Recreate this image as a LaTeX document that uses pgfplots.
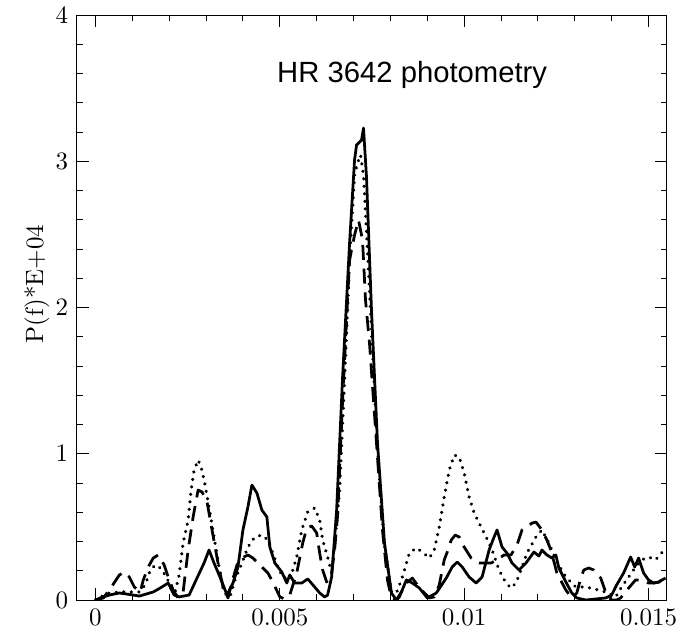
\documentclass[border=0pt]{standalone}
\usepackage{fontspec}
\usepackage{pgfplots}
\pgfplotsset{compat=1.18}
\newfontfamily\hel{Liberation Sans}
\begin{document}
\begin{tikzpicture}
\path[use as bounding box] (-30.8pt,-12.8pt) rectangle (245.6pt,240pt);
\begin{axis}[
  at={(0,0)}, anchor=south west,
  scale only axis, width=236pt, height=234pt,
  xmin=-0.5, xmax=15.5, ymin=0, ymax=4,
  xtick={0,5,10,15}, xticklabels={0,0.005,0.01,0.015},
  ytick={0,1,2,3,4},
  minor x tick num=4, minor y tick num=4,
  tick align=inside, tick pos=both,
  major tick length=4.8pt, minor tick length=2.4pt,
  every tick/.style={black, line width=0.4pt},
  axis line style={line width=0.4pt},
  ylabel={P(f)*E+04},
  every axis y label/.style={at={(axis description cs:-0.068,0.54)},rotate=90,anchor=center},
  every axis plot/.append style={line join=round},
  clip=true,
]
% solid
\addplot[black, line width=1.1pt] coordinates {
(0,0) (0.135,0.014) (0.378,0.034) (0.649,0.048) (0.838,0.041) (1.027,0.034) (1.189,0.027)
(1.378,0.041) (1.568,0.055) (1.757,0.082) (1.973,0.116) (2.135,0.034) (2.270,0.021) (2.541,0.034)
(2.730,0.137) (2.946,0.253) (3.081,0.342) (3.216,0.253) (3.378,0.157) (3.568,0.034) (3.730,0.116)
(3.865,0.226) (4.000,0.479) (4.135,0.636) (4.243,0.786) (4.378,0.732) (4.514,0.615) (4.649,0.568)
(4.730,0.362) (4.865,0.253) (5.054,0.191) (5.189,0.116) (5.270,0.171) (5.405,0.116) (5.595,0.116)
(5.757,0.144) (5.946,0.089) (6.081,0.048) (6.216,0.021) (6.297,0.034) (6.405,0.157) (6.541,0.615)
(6.703,1.525) (6.892,2.441) (7.027,3.009) (7.081,3.111) (7.216,3.145) (7.270,3.227) (7.351,2.892)
(7.486,1.983) (7.649,1.074) (7.838,0.390) (8.027,0.048) (8.162,0) (8.243,0.021) (8.432,0.137)
(8.595,0.116) (8.784,0.082) (9.000,0.014) (9.243,0.048) (9.514,0.150) (9.676,0.226) (9.811,0.260)
(9.946,0.226) (10.135,0.157) (10.324,0.116) (10.486,0.157) (10.676,0.342) (10.811,0.431) (10.892,0.479)
(11.027,0.362) (11.162,0.321) (11.297,0.253) (11.486,0.205) (11.676,0.253) (11.892,0.328) (12.027,0.301)
(12.108,0.342) (12.243,0.308) (12.378,0.287) (12.486,0.308) (12.568,0.219) (12.757,0.123) (12.919,0.048)
(13.054,0.014) (13.297,0) (13.568,0.007) (13.838,0.014) (14.000,0.034) (14.135,0.103) (14.324,0.185)
(14.514,0.294) (14.622,0.226) (14.730,0.287) (14.865,0.185) (15.000,0.137) (15.135,0.116) (15.270,0.123)
(15.459,0.150)
};
% dashed
\addplot[black, line width=1.1pt, dash pattern=on 6pt off 3.5pt] coordinates {
(0,0) (0.216,0.014) (0.432,0.089) (0.649,0.171) (0.784,0.191) (0.919,0.157) (1.054,0.089)
(1.216,0.055) (1.297,0.137) (1.432,0.226) (1.568,0.287) (1.703,0.308) (1.865,0.239) (1.973,0.157)
(2.108,0.068) (2.243,0.014) (2.378,0.055) (2.514,0.342) (2.649,0.568) (2.784,0.752) (2.892,0.738)
(3.027,0.670) (3.162,0.479) (3.324,0.253) (3.459,0.089) (3.595,0.014) (3.703,0.123) (3.838,0.239)
(3.973,0.287) (4.135,0.308) (4.270,0.287) (4.459,0.239) (4.676,0.185) (4.811,0.123) (5.000,0.021)
(5.135,0.007) (5.270,0.034) (5.459,0.185) (5.622,0.390) (5.730,0.492) (5.865,0.506) (6.000,0.458)
(6.081,0.321) (6.162,0.205) (6.270,0.123) (6.405,0.185) (6.486,0.342) (6.568,0.581) (6.703,1.368)
(6.892,2.325) (7.027,2.496) (7.135,2.598) (7.243,2.462) (7.324,2.051) (7.432,1.757) (7.622,1.074)
(7.784,0.479) (7.919,0.137) (8.027,0.014) (8.162,0) (8.297,0.055) (8.432,0.116) (8.595,0.150)
(8.730,0.103) (8.865,0.062) (9.054,0.014) (9.189,0.021) (9.324,0.103) (9.459,0.274) (9.541,0.328)
(9.649,0.410) (9.757,0.444) (9.865,0.431) (10.000,0.362) (10.189,0.287) (10.405,0.253) (10.568,0.253)
(10.730,0.253) (10.892,0.274) (11.081,0.308) (11.270,0.308) (11.432,0.376) (11.568,0.479) (11.703,0.499)
(11.838,0.526) (11.946,0.533) (12.108,0.479) (12.243,0.410) (12.351,0.342) (12.514,0.185) (12.757,0.068)
(12.919,0.014) (13.054,0.048) (13.162,0.150) (13.243,0.205) (13.378,0.219) (13.514,0.205) (13.703,0.150)
(13.865,0.034) (14.000,0) (14.135,0) (14.243,0.014) (14.459,0.082) (14.649,0.137) (14.784,0.137)
(15.000,0.116) (15.135,0.116) (15.297,0.123) (15.459,0.171)
};
% dotted
\addplot[black, line width=1.4pt, line cap=round, dash pattern=on 0.01pt off 3pt] coordinates {
(0,0) (0.135,0.021) (0.378,0.048) (0.649,0.055) (0.919,0.055) (1.189,0.055) (1.351,0.103)
(1.486,0.205) (1.622,0.239) (1.757,0.219) (1.892,0.171) (2.027,0.103) (2.162,0.055) (2.270,0.171)
(2.378,0.390) (2.514,0.547) (2.595,0.752) (2.676,0.889) (2.784,0.957) (2.865,0.909) (2.946,0.821)
(3.081,0.636) (3.216,0.431) (3.351,0.226) (3.486,0.048) (3.649,0.021) (3.784,0.137) (3.973,0.253)
(4.135,0.362) (4.324,0.431) (4.514,0.444) (4.676,0.410) (4.811,0.321) (4.946,0.226) (5.081,0.157)
(5.270,0.137) (5.459,0.294) (5.595,0.479) (5.757,0.602) (5.946,0.629) (6.081,0.547) (6.162,0.410)
(6.297,0.294) (6.405,0.185) (6.486,0.376) (6.622,0.752) (6.757,1.504) (6.892,2.325) (7.027,2.906)
(7.108,2.988) (7.189,3.043) (7.270,2.906) (7.378,2.393) (7.514,1.709) (7.649,1.026) (7.838,0.376)
(8.027,0.055) (8.162,0.048) (8.324,0.157) (8.514,0.321) (8.703,0.356) (8.865,0.328) (9.054,0.287)
(9.189,0.342) (9.324,0.499) (9.459,0.704) (9.595,0.889) (9.730,0.991) (9.865,0.978) (10.000,0.868)
(10.135,0.704) (10.270,0.595) (10.405,0.526) (10.595,0.431) (10.757,0.342) (10.946,0.205) (11.135,0.116)
(11.270,0.082) (11.405,0.116) (11.541,0.205) (11.703,0.321) (11.946,0.431) (12.108,0.479) (12.297,0.390)
(12.486,0.274) (12.757,0.157) (13.027,0.089) (13.297,0.089) (13.649,0.068) (13.919,0.048) (14.108,0.021)
(14.270,0.089) (14.459,0.157) (14.649,0.226) (14.811,0.274) (15.000,0.294) (15.189,0.274) (15.351,0.321)
(15.459,0.356)
};
\node[font=\hel\fontsize{11.7}{14}\selectfont, anchor=center] at (axis cs:8.59,3.59) {HR 3642 photometry};
\end{axis}
\end{tikzpicture}
\end{document}
